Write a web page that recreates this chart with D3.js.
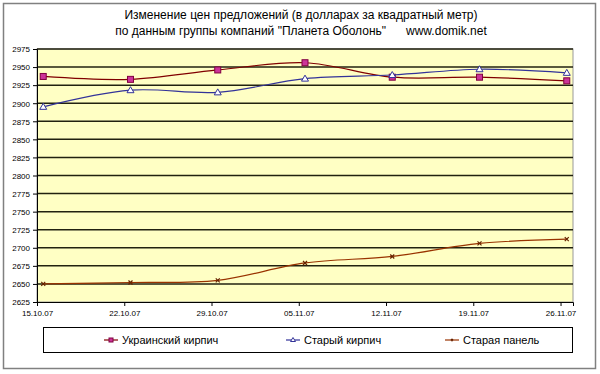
<!DOCTYPE html>
<html>
<head>
<meta charset="utf-8">
<script src="https://cdn.jsdelivr.net/npm/d3@7"></script>
<style>
  body { margin: 0; background: #fff; }
  text { font-family: Arial, "Liberation Sans", sans-serif; }
</style>
</head>
<body>
<div id="chart"></div>
<script>
var dates = ["15.10.07", "22.10.07", "29.10.07", "05.11.07", "12.11.07", "19.11.07", "26.11.07"];
var ukrBrick = [2937, 2933, 2946, 2956, 2936, 2936, 2931];
var oldBrick = [2895, 2918, 2915, 2934, 2939, 2947, 2942];
var oldPanel = [2650, 2652, 2655, 2679, 2688, 2706, 2712];
var yTicks = d3.range(2625, 2976, 25);

var width = 600, height = 374;
var parse = d3.timeParse("%d.%m.%y");

var svg = d3.select("#chart").append("svg")
    .attr("width", width)
    .attr("height", height);

// outer frame
svg.append("rect")
    .attr("x", 3.5).attr("y", 3.5)
    .attr("width", 592).attr("height", 365)
    .attr("fill", "#fff")
    .attr("stroke", "#808080")
    .attr("stroke-width", 1.5);

// title
svg.append("text").attr("x", 301).attr("y", 19)
    .attr("text-anchor", "middle").style("font-size", "12px")
    .text("Изменение цен предложений  (в долларах за квадратный метр)");
svg.append("text").attr("x", 301).attr("y", 35)
    .attr("text-anchor", "middle").style("font-size", "12px").attr("xml:space", "preserve")
    .text("по данным группы компаний \"Планета Оболонь\"      www.domik.net");

var plotL = 37, plotR = 573, plotT = 49, plotB = 302;

// date axis: one slot per day, points sit in the middle of the day
var x = d3.scaleTime()
    .domain([parse("15.10.07"), d3.timeDay.offset(parse("26.11.07"), 1)])
    .range([plotL, plotR]);
var y = d3.scaleLinear().domain([2625, 2975]).range([plotB, plotT]);

svg.append("rect")
    .attr("x", plotL).attr("y", plotT)
    .attr("width", plotR - plotL).attr("height", plotB - plotT)
    .attr("fill", "#ffffc4")
    .attr("stroke", "#999").attr("stroke-width", 1);

// gridlines
svg.selectAll(".grid").data(yTicks.filter(function (d) { return d > 2625; })).enter()
    .append("line")
    .attr("x1", plotL).attr("x2", plotR)
    .attr("y1", function (d) { return y(d); })
    .attr("y2", function (d) { return y(d); })
    .attr("stroke", "#222210")
    .attr("stroke-width", 1.5);

var yAxis = svg.append("g")
    .attr("transform", "translate(" + plotL + ",0)")
    .call(d3.axisLeft(y).tickValues(yTicks).tickSize(4).tickFormat(d3.format("d")));
yAxis.selectAll("text").style("font-size", "8px").attr("x", -7).attr("dy", "0.35em");

var xAxis = svg.append("g")
    .attr("transform", "translate(0," + plotB + ")")
    .call(d3.axisBottom(x).tickValues(dates.map(parse)).tickSize(4).tickFormat(d3.timeFormat("%d.%m.%y")));
xAxis.selectAll("text").style("font-size", "8px").attr("y", 8);
xAxis.select(".domain").attr("stroke", "#000");
yAxis.select(".domain").attr("stroke", "#000");
svg.selectAll(".tick line").attr("stroke", "#000");
svg.selectAll(".tick text").attr("fill", "#000");

function px(i) { return x(d3.timeHour.offset(parse(dates[i]), 12)); }

var series = [
    { name: "Украинский кирпич", values: ukrBrick, line: "#800000", marker: "square" },
    { name: "Старый кирпич", values: oldBrick, line: "#333399", marker: "triangle" },
    { name: "Старая панель", values: oldPanel, line: "#993300", marker: "cross" }
];

var line = d3.line()
    .x(function (d, i) { return px(i); })
    .y(function (d) { return y(d); })
    .curve(d3.curveCatmullRom.alpha(0.5));

function drawMarker(g, type, cx, cy, sz) {
    var r = sz || 3;
    if (type === "square") {
        g.append("rect").attr("x", cx - r).attr("y", cy - r).attr("width", 2 * r).attr("height", 2 * r)
            .attr("fill", "#cc3399").attr("stroke", "#800040").attr("stroke-width", 1);
    } else if (type === "triangle") {
        g.append("path").attr("d", "M" + cx + "," + (cy - r - 0.5) + "L" + (cx + r + 0.5) + "," + (cy + r - 0.5) + "L" + (cx - r - 0.5) + "," + (cy + r - 0.5) + "Z")
            .attr("fill", "#fff").attr("stroke", "#333399").attr("stroke-width", 1);
    } else {
        var c = r - 1;
        g.append("path").attr("d", "M" + (cx - c) + "," + (cy - c) + "L" + (cx + c) + "," + (cy + c) + "M" + (cx + c) + "," + (cy - c) + "L" + (cx - c) + "," + (cy + c))
            .attr("stroke", "#662200").attr("stroke-width", 1.2);
    }
}

series.forEach(function (s) {
    svg.append("path").datum(s.values)
        .attr("d", line)
        .attr("fill", "none")
        .attr("stroke", s.line)
        .attr("stroke-width", 1.2);
    var g = svg.append("g");
    s.values.forEach(function (v, i) { drawMarker(g, s.marker, px(i), y(v)); });
});

// legend
svg.append("rect")
    .attr("x", 43.5).attr("y", 327.5).attr("width", 529).attr("height", 25)
    .attr("fill", "#fff").attr("stroke", "#000").attr("stroke-width", 1);
var legendX = [104, 286, 445];
series.forEach(function (s, i) {
    var g = svg.append("g");
    var lx = legendX[i], ly = 340;
    g.append("line").attr("x1", lx).attr("x2", lx + 14).attr("y1", ly).attr("y2", ly)
        .attr("stroke", s.line).attr("stroke-width", 1.2);
    drawMarker(g, s.marker, lx + 7, ly, 2);
    g.append("text").attr("x", lx + 18).attr("y", ly + 4)
        .style("font-size", "11px").text(s.name);
});
</script>
</body>
</html>
